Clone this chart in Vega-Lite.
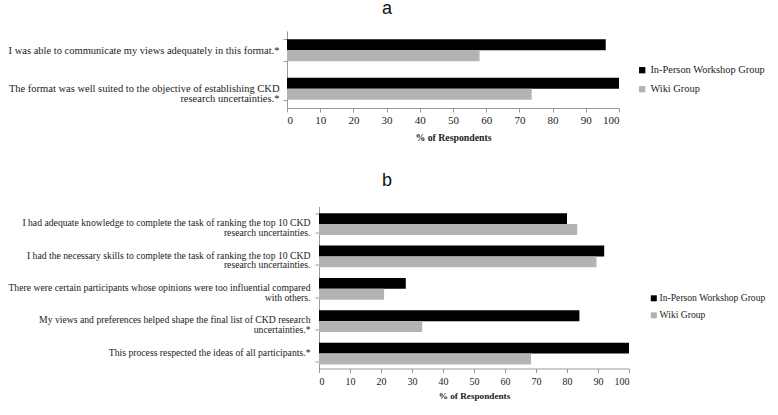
{
  "$schema": "https://vega.github.io/schema/vega-lite/v6.json",
  "padding": {"left": 7, "top": 0, "right": 0, "bottom": 0},
  "background": "white",
  "datasets": {
    "a": [
      {"question": "I was able to communicate my views adequately in this format.*", "group": "In-Person Workshop Group", "pct": 96},
      {"question": "I was able to communicate my views adequately in this format.*", "group": "Wiki Group", "pct": 58},
      {"question": "The format was well suited to the objective of establishing CKD\nresearch uncertainties.*", "group": "In-Person Workshop Group", "pct": 100},
      {"question": "The format was well suited to the objective of establishing CKD\nresearch uncertainties.*", "group": "Wiki Group", "pct": 73.7}
    ],
    "b": [
      {"question": "I had adequate knowledge to complete the task of ranking the top 10 CKD\nresearch uncertainties.", "group": "In-Person Workshop Group", "pct": 80},
      {"question": "I had adequate knowledge to complete the task of ranking the top 10 CKD\nresearch uncertainties.", "group": "Wiki Group", "pct": 83.3},
      {"question": "I had the necessary skills to complete the task of ranking the top 10 CKD\nresearch uncertainties.", "group": "In-Person Workshop Group", "pct": 92},
      {"question": "I had the necessary skills to complete the task of ranking the top 10 CKD\nresearch uncertainties.", "group": "Wiki Group", "pct": 89.5},
      {"question": "There were certain participants whose opinions were too influential compared\nwith others.", "group": "In-Person Workshop Group", "pct": 28},
      {"question": "There were certain participants whose opinions were too influential compared\nwith others.", "group": "Wiki Group", "pct": 21},
      {"question": "My views and preferences helped shape the final list of CKD research\nuncertainties.*", "group": "In-Person Workshop Group", "pct": 84},
      {"question": "My views and preferences helped shape the final list of CKD research\nuncertainties.*", "group": "Wiki Group", "pct": 33.3},
      {"question": "This process respected the ideas of all participants.*", "group": "In-Person Workshop Group", "pct": 100},
      {"question": "This process respected the ideas of all participants.*", "group": "Wiki Group", "pct": 68.4}
    ]
  },
  "spacing": 28.5,
  "resolve": {"scale": {"color": "independent"}, "legend": {"color": "independent"}},
  "vconcat": [
    {
      "data": {"name": "a"},
      "title": {"text": "a", "offset": 8},
      "width": 332,
      "height": 77,
      "mark": {"type": "bar"},
      "encoding": {
        "y": {
          "field": "question", "type": "nominal", "sort": null,
          "scale": {"paddingInner": 0.435, "paddingOuter": 0.2175},
          "axis": {"title": null, "labelExpr": "split(datum.label, '\\n')", "labelFontSize": 10.5, "labelLineHeight": 9.5, "labelPadding": 4, "tickBand": "extent", "tickSize": 4, "labelLimit": 400, "labelAlign": "right"}
        },
        "yOffset": {"field": "group", "type": "nominal", "sort": ["In-Person Workshop Group", "Wiki Group"]},
        "x": {
          "field": "pct", "type": "quantitative",
          "scale": {"domain": [0, 100]},
          "axis": {"values": [0, 10, 20, 30, 40, 50, 60, 70, 80, 90, 100], "title": "% of Respondents", "labelFontSize": 11, "titleFontSize": 9.8, "tickSize": 4, "labelPadding": 2.5, "titlePadding": 7}
        },
        "color": {
          "field": "group", "type": "nominal",
          "scale": {"domain": ["In-Person Workshop Group", "Wiki Group"], "range": ["#000000", "#b3b3b3"]},
          "legend": {"title": null, "orient": "none", "legendX": 350, "legendY": 34, "labelFont": "Liberation Serif", "labelFontSize": 10.4, "rowPadding": 8, "symbolType": "square", "symbolSize": 40, "labelOffset": 3, "labelLimit": 300}
        }
      }
    },
    {
      "data": {"name": "b"},
      "title": {"text": "b", "offset": 11.5},
      "width": 342,
      "height": 162,
      "mark": {"type": "bar"},
      "encoding": {
        "y": {
          "field": "question", "type": "nominal", "sort": null,
          "scale": {"paddingInner": 0.41, "paddingOuter": 0.205},
          "axis": {"title": null, "offset": -32, "labelExpr": "split(datum.label, '\\n')", "labelFontSize": 9.7, "labelLineHeight": 9.5, "labelPadding": 5, "tickBand": "extent", "tickSize": 4, "labelLimit": 400, "labelAlign": "right"}
        },
        "yOffset": {"field": "group", "type": "nominal", "sort": ["In-Person Workshop Group", "Wiki Group"]},
        "x": {
          "field": "pct", "type": "quantitative",
          "scale": {"domain": [0, 100], "range": [32, 342]},
          "axis": {"values": [0, 10, 20, 30, 40, 50, 60, 70, 80, 90, 100], "title": "% of Respondents", "labelFontSize": 10, "titleFontSize": 9.2, "tickSize": 4, "labelPadding": 3.7, "titlePadding": 5}
        },
        "color": {
          "field": "group", "type": "nominal",
          "scale": {"domain": ["In-Person Workshop Group", "Wiki Group"], "range": ["#000000", "#b3b3b3"]},
          "legend": {"title": null, "orient": "none", "legendX": 362, "legendY": 87, "labelFont": "Liberation Serif", "labelFontSize": 9.6, "rowPadding": 6, "symbolType": "square", "symbolSize": 36, "labelOffset": 1, "labelLimit": 300}
        }
      }
    }
  ],
  "config": {
    "view": {"stroke": null},
    "font": "Liberation Serif",
    "title": {"font": "Liberation Sans", "fontSize": 18, "fontWeight": "normal", "anchor": "middle", "frame": "bounds", "color": "#111"},
    "axis": {"grid": false, "domainColor": "#999999", "tickColor": "#999999", "labelColor": "#222222", "titleColor": "#222222", "labelFont": "Liberation Serif", "titleFont": "Liberation Serif", "titleFontWeight": "bold"},
    "legend": {"labelColor": "#222222", "labelFont": "Liberation Serif", "padding": 0, "symbolStrokeWidth": 0}
  }
}
